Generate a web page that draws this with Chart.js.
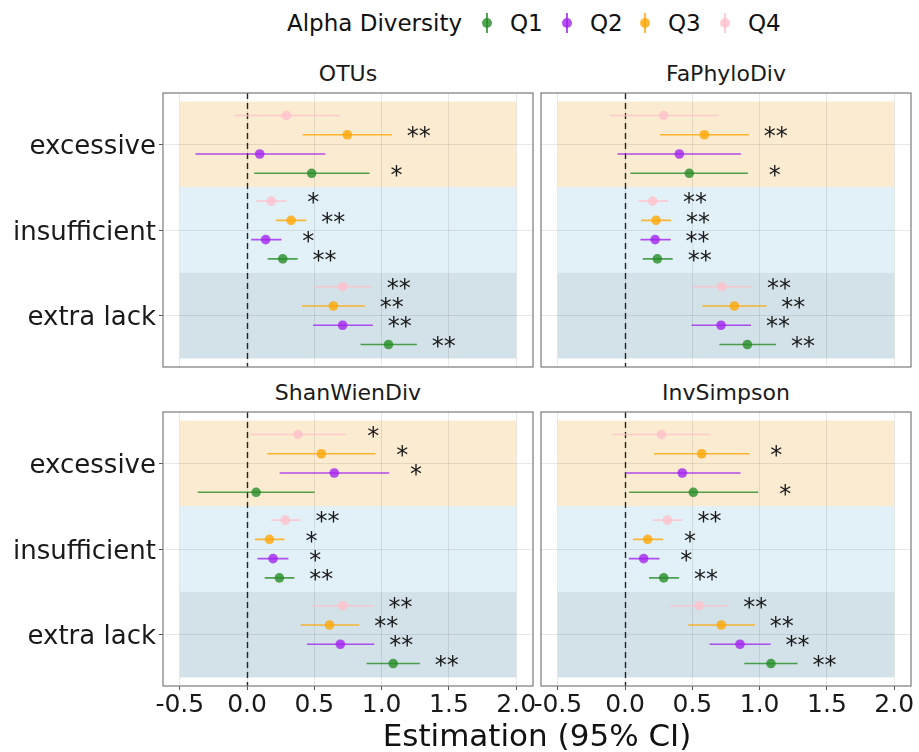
<!DOCTYPE html>
<html lang="en">
<head>
  <meta charset="UTF-8">
  <title>Alpha Diversity</title>
  <style>
    body {
      margin: 0;
      background: #ffffff;
      font-family: "DejaVu Sans", sans-serif;
      color: #111;
    }
    #wrap { position: relative; width: 919px; height: 752px; overflow: hidden; }
    canvas { position: absolute; }
    .txt { position: absolute; white-space: nowrap; }
    .strip { font-size: 22px; line-height: 26px; width: 370px; text-align: center; color: #1a1a1a; }
    .leg { font-size: 23px; line-height: 30px; top: 8px; }
    .key { position: absolute; top: 13px; width: 10px; height: 20px; }
    .key .bar { position: absolute; left: 4px; top: 0; width: 2px; height: 20px; }
    .key .dot { position: absolute; left: 0; top: 5px; width: 10px; height: 10px; border-radius: 50%; }
    #xtitle { font-size: 31px; line-height: 36px; top: 717px; left: 287px; width: 500px; text-align: center; }
  </style>
  <script src="https://cdn.jsdelivr.net/npm/chart.js"></script>
</head>
<body>
<div id="wrap">
  <span class="txt leg" style="left:287px">Alpha Diversity</span>
  <div class="key" id="k0" style="left:482px"><div class="bar"></div><div class="dot"></div></div>
  <span class="txt leg" style="left:510px">Q1</span>
  <div class="key" id="k1" style="left:562px"><div class="bar"></div><div class="dot"></div></div>
  <span class="txt leg" style="left:590px">Q2</span>
  <div class="key" id="k2" style="left:640px"><div class="bar"></div><div class="dot"></div></div>
  <span class="txt leg" style="left:668px">Q3</span>
  <div class="key" id="k3" style="left:720px"><div class="bar"></div><div class="dot"></div></div>
  <span class="txt leg" style="left:748px">Q4</span>

  <span class="txt strip" style="left:163px; top:61px">OTUs</span>
  <span class="txt strip" style="left:541px; top:61px">FaPhyloDiv</span>
  <span class="txt strip" style="left:163px; top:380px">ShanWienDiv</span>
  <span class="txt strip" style="left:541px; top:380px">InvSimpson</span>

  <canvas id="c0"></canvas>
  <canvas id="c1"></canvas>
  <canvas id="c2"></canvas>
  <canvas id="c3"></canvas>

  <span class="txt" id="xtitle">Estimation (95% CI)</span>
</div>

<script>
  // categories (rows) and groups
  const categories = ["excessive", "insufficient", "extra lack"];
  const quartiles = ["Q1", "Q2", "Q3", "Q4"];
  const xTicks = [-0.5, 0.0, 0.5, 1.0, 1.5, 2.0];

  // each array: rows = excessive, insufficient, extra lack; columns = Q1..Q4
  const otusEst  = [[0.480, 0.094, 0.745, 0.292], [0.265, 0.138, 0.327, 0.180], [1.051, 0.710, 0.641, 0.710]];
  const otusLow  = [[0.052, -0.384, 0.413, -0.094], [0.153, 0.030, 0.215, 0.069], [0.843, 0.490, 0.408, 0.500]];
  const otusHigh = [[0.910, 0.581, 1.076, 0.685], [0.376, 0.255, 0.440, 0.292], [1.262, 0.935, 0.876, 0.928]];
  const otusSig  = [["*", "", "**", ""], ["**", "*", "**", "*"], ["**", "**", "**", "**"]];

  const faEst  = [[0.477, 0.403, 0.589, 0.287], [0.240, 0.223, 0.230, 0.205], [0.909, 0.713, 0.812, 0.720]];
  const faLow  = [[0.039, -0.057, 0.260, -0.116], [0.131, 0.114, 0.119, 0.099], [0.701, 0.494, 0.574, 0.502]];
  const faHigh = [[0.913, 0.861, 0.920, 0.696], [0.354, 0.339, 0.342, 0.319], [1.122, 0.936, 1.050, 0.943]];
  const faSig  = [["*", "", "**", ""], ["**", "**", "**", "**"], ["**", "**", "**", "**"]];

  const shanEst  = [[0.067, 0.648, 0.552, 0.378], [0.240, 0.193, 0.166, 0.284], [1.086, 0.693, 0.613, 0.710]];
  const shanLow  = [[-0.367, 0.242, 0.151, 0.025], [0.131, 0.077, 0.057, 0.178], [0.888, 0.445, 0.398, 0.487]];
  const shanHigh = [[0.502, 1.056, 0.953, 0.737], [0.351, 0.307, 0.279, 0.398], [1.284, 0.945, 0.834, 0.940]];
  const shanSig  = [["", "*", "*", "*"], ["**", "*", "*", "**"], ["**", "**", "**", "**"]];

  const invEst  = [[0.507, 0.425, 0.569, 0.270], [0.287, 0.138, 0.168, 0.314], [1.084, 0.854, 0.715, 0.550]];
  const invLow  = [[0.030, 0.000, 0.215, -0.094], [0.178, 0.027, 0.059, 0.203], [0.886, 0.628, 0.470, 0.331]];
  const invHigh = [[0.990, 0.858, 0.923, 0.636], [0.401, 0.255, 0.282, 0.428], [1.282, 1.082, 0.965, 0.767]];
  const invSig  = [["*", "", "*", ""], ["**", "*", "*", "**"], ["**", "**", "**", "**"]];

  // styling
  const qColors = ["34,139,34", "160,32,240", "255,165,0", "255,192,203"];
  const qAlpha = 0.78;
  const dodge = [0.3375, 0.1125, -0.1125, -0.3375];  // Q1 lowest in each band
  const bandColors = ["#faebd1", "#e2f0f8", "#d3e1e8"];
  const starOffset = 0.2;

  // legend keys
  quartiles.forEach((q, i) => {
    const k = document.getElementById("k" + i);
    const c = "rgba(" + qColors[i] + "," + qAlpha + ")";
    k.querySelector(".bar").style.background = c;
    k.querySelector(".dot").style.background = c;
  });

  const decorPlugin = {
    id: "decor",
    beforeDraw(chart) {
      const { ctx, scales: { x, y } } = chart;
      ctx.save();
      bandColors.forEach((c, i) => {
        const top = y.getPixelForValue(i + 0.5);
        const bot = y.getPixelForValue(i + 1.5);
        const l = x.getPixelForValue(-0.5);
        const r = x.getPixelForValue(2.0);
        ctx.fillStyle = c;
        ctx.fillRect(l, top, r - l, bot - top);
      });
      ctx.restore();
    },
    beforeDatasetsDraw(chart) {
      const { ctx, chartArea: a, scales: { x } } = chart;
      const px = Math.round(x.getPixelForValue(0)) + 0.5;
      ctx.save();
      ctx.strokeStyle = "#222";
      ctx.lineWidth = 1.4;
      ctx.setLineDash([6, 4]);
      ctx.beginPath();
      ctx.moveTo(px, a.top);
      ctx.lineTo(px, a.bottom);
      ctx.stroke();
      ctx.restore();
    },
    afterDatasetsDraw(chart) {
      const { ctx, scales: { x, y } } = chart;
      const p = chart.options.plugins.decor;
      ctx.save();
      ctx.font = "24px 'DejaVu Sans'";
      ctx.fillStyle = "#1a1a1a";
      ctx.textAlign = "center";
      ctx.textBaseline = "middle";
      p.sig.forEach((row, i) => {
        row.forEach((s, q) => {
          if (!s) return;
          const px = x.getPixelForValue(p.high[i][q] + starOffset);
          const py = y.getPixelForValue(i + 1 + dodge[q]);
          ctx.fillText(s, px, py + 3);
        });
      });
      ctx.restore();
    },
    afterDraw(chart) {
      const { ctx, chartArea: a } = chart;
      ctx.save();
      ctx.strokeStyle = "#7a7a7a";
      ctx.lineWidth = 1.2;
      ctx.strokeRect(a.left, a.top, a.right - a.left, a.bottom - a.top);
      ctx.restore();
    }
  };

  function buildPanel(id, box, plot, est, low, high, sig, showY, showX) {
    const canvas = document.getElementById(id);
    canvas.width = box.w;
    canvas.height = box.h;
    canvas.style.left = box.x + "px";
    canvas.style.top = box.y + "px";

    const datasets = [];
    quartiles.forEach((q, qi) => {
      const pts = categories.map((c, i) => ({ x: est[i][qi], y: i + 1 + dodge[qi] }));
      datasets.push({
        type: "scatter",
        label: q,
        data: pts,
        order: 0,
        pointRadius: 4.8,
        pointBorderWidth: 0,
        pointBackgroundColor: "rgba(" + qColors[qi] + "," + qAlpha + ")"
      });
    });
    quartiles.forEach((q, qi) => {
      const seg = [];
      categories.forEach((c, i) => {
        const yy = i + 1 + dodge[qi];
        seg.push({ x: low[i][qi], y: yy }, { x: high[i][qi], y: yy }, { x: high[i][qi], y: null });
      });
      datasets.push({
        type: "line",
        label: q + " CI",
        data: seg,
        order: 1,
        spanGaps: false,
        pointRadius: 0,
        borderWidth: 1.6,
        borderColor: "rgba(" + qColors[qi] + "," + qAlpha + ")",
        tension: 0
      });
    });

    return new Chart(canvas.getContext("2d"), {
      type: "scatter",
      data: { datasets },
      plugins: [decorPlugin],
      options: {
        responsive: false,
        animation: false,
        events: [],
        layout: {
          padding: { top: plot.t - box.y, right: box.x + box.w - plot.r, left: 0, bottom: 0 }
        },
        plugins: {
          legend: { display: false },
          tooltip: { enabled: false },
          decor: { high, sig }
        },
        scales: {
          x: {
            type: "linear",
            min: -0.625,
            max: 2.125,
            afterBuildTicks: s => { s.ticks = xTicks.map(v => ({ value: v })); },
            afterFit: s => { s.height = box.y + box.h - plot.b; },
            border: { display: false },
            grid: { color: "rgba(0,0,0,0.085)", lineWidth: 1, drawTicks: showX, tickLength: 4, tickColor: "#555", tickWidth: 1 },
            ticks: {
              display: showX,
              autoSkip: false,
              maxRotation: 0,
              padding: 0,
              color: "#1a1a1a",
              font: { family: "DejaVu Sans", size: 25 },
              callback: v => v.toFixed(1)
            }
          },
          y: {
            type: "linear",
            min: 0.4,
            max: 3.6,
            reverse: true,
            afterBuildTicks: s => { s.ticks = [1, 2, 3].map(v => ({ value: v })); },
            afterFit: s => { s.width = plot.l - box.x; },
            border: { display: false },
            grid: { color: "rgba(0,0,0,0.085)", lineWidth: 1, drawTicks: showY, tickLength: 4, tickColor: "#555", tickWidth: 1 },
            ticks: {
              display: showY,
              padding: 3,
              labelOffset: 3,
              color: "#1a1a1a",
              font: { family: "DejaVu Sans", size: 26 },
              callback: v => categories[v - 1]
            }
          }
        }
      }
    });
  }

  buildPanel("c0", { x: 0, y: 60, w: 580, h: 330 }, { l: 163, t: 93, r: 533, b: 367 },
    otusEst, otusLow, otusHigh, otusSig, true, false);
  buildPanel("c1", { x: 500, y: 60, w: 419, h: 330 }, { l: 541, t: 93, r: 911, b: 367 },
    faEst, faLow, faHigh, faSig, false, false);
  buildPanel("c2", { x: 0, y: 385, w: 580, h: 367 }, { l: 163, t: 412, r: 533, b: 686 },
    shanEst, shanLow, shanHigh, shanSig, true, true);
  buildPanel("c3", { x: 500, y: 385, w: 419, h: 367 }, { l: 541, t: 412, r: 911, b: 686 },
    invEst, invLow, invHigh, invSig, false, true);
</script>
</body>
</html>
